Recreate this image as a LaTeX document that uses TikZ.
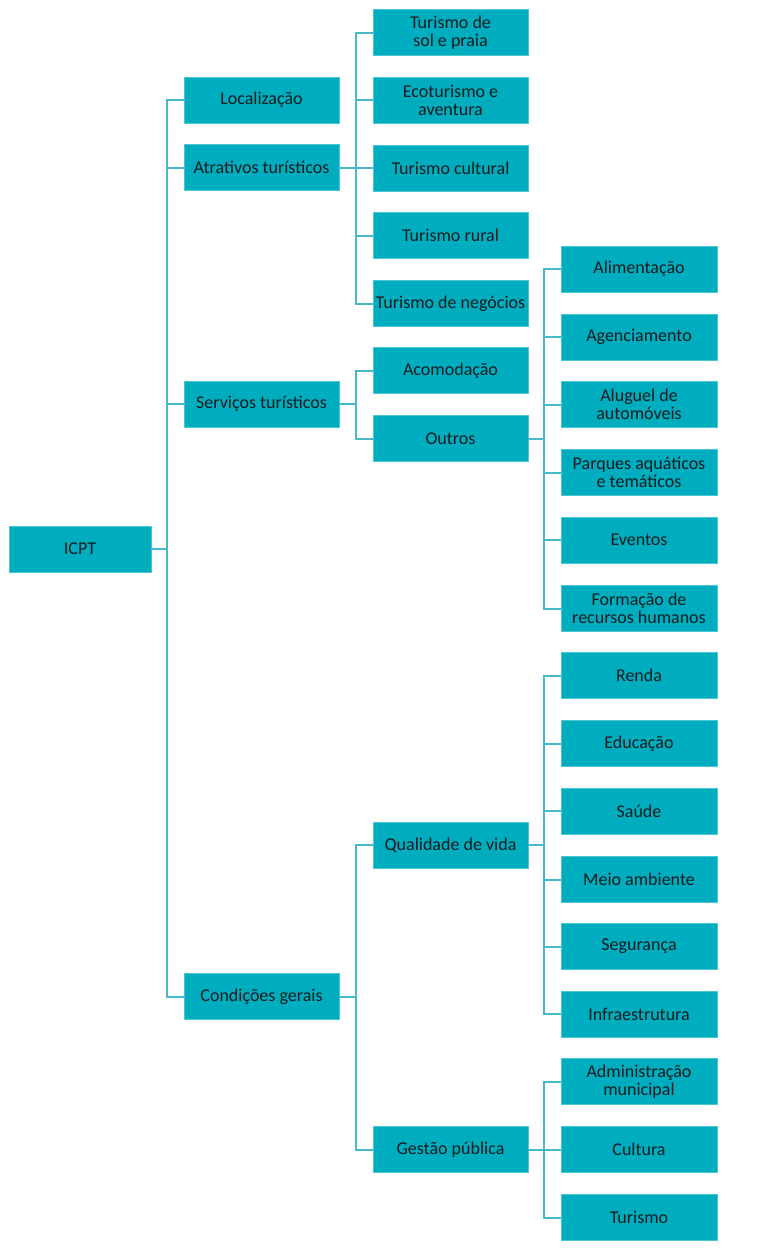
\documentclass[tikz,border=0pt]{standalone}
\usepackage{fontspec}
\setmainfont{Carlito}
\definecolor{boxfill}{RGB}{0,173,190}
\definecolor{linecol}{RGB}{70,186,200}
\definecolor{txt}{RGB}{20,28,32}
\begin{document}
\begin{tikzpicture}[x=1pt,y=-1pt,
  box/.style={fill=boxfill, draw=boxfill!70!white, line width=0.6pt, text=txt, font=\fontsize{18}{18.5}\selectfont,
    align=center, minimum height=46pt, inner sep=0.5pt, anchor=center},
  lvlzero/.style={box, minimum width=142pt},
  lvlone/.style={box, minimum width=155pt},
  lvltwo/.style={box, minimum width=155pt},
  lvlthree/.style={box, minimum width=156pt},
  conn/.style={draw=linecol, line width=2pt}]
\useasboundingbox (0,0) rectangle (779,1253);
\fill[white] (0,0) rectangle (779,1253);
% level 0
\node[lvlzero] (icpt) at (80,549) {ICPT};
% level 1
\node[lvlone] (loc) at (261.5,100) {Localização};
\node[lvlone] (atr) at (261.5,167.5) {Atrativos turísticos};
\node[lvlone] (serv) at (261.5,404) {Serviços turísticos};
\node[lvlone] (cond) at (261.5,996.5) {Condições gerais};
% level 2
\node[lvltwo] (sol) at (450.5,32.5) {Turismo de\\sol e praia};
\node[lvltwo] (eco) at (450.5,100.2) {Ecoturismo e\\aventura};
\node[lvltwo] (cult) at (450.5,168) {Turismo cultural};
\node[lvltwo] (rural) at (450.5,235.7) {Turismo rural};
\node[lvltwo] (neg) at (450.5,303.5) {Turismo de negócios};
\node[lvltwo] (acom) at (450.5,370.7) {Acomodação};
\node[lvltwo] (outros) at (450.5,438.5) {Outros};
\node[lvltwo] (qual) at (450.5,845) {Qualidade de vida};
\node[lvltwo] (gest) at (450.5,1149.5) {Gestão pública};
% level 3
\node[lvlthree] (alim) at (639,269) {Alimentação};
\node[lvlthree] (agen) at (639,337) {Agenciamento};
\node[lvlthree] (alug) at (639,404.5) {Aluguel de\\automóveis};
\node[lvlthree] (parq) at (639,472.5) {Parques aquáticos\\e temáticos};
\node[lvlthree] (even) at (639,540) {Eventos};
\node[lvlthree] (form) at (639,608.5) {Formação de\\recursos humanos};
\node[lvlthree] (renda) at (639,675.5) {Renda};
\node[lvlthree] (educ) at (639,743.5) {Educação};
\node[lvlthree] (saude) at (639,811) {Saúde};
\node[lvlthree] (meio) at (639,879.5) {Meio ambiente};
\node[lvlthree] (seg) at (639,946.5) {Segurança};
\node[lvlthree] (infra) at (639,1014) {Infraestrutura};
\node[lvlthree] (admin) at (639,1081.5) {Administração\\municipal};
\node[lvlthree] (cultura) at (639,1149.5) {Cultura};
\node[lvlthree] (tur) at (639,1217.5) {Turismo};
% connectors
\foreach \c in {loc,atr,serv,cond}
  \draw[conn] (icpt.east) -- ++(16,0) |- (\c.west);
\foreach \c in {sol,eco,cult,rural,neg}
  \draw[conn] (atr.east) -- ++(17,0) |- (\c.west);
\foreach \c in {acom,outros}
  \draw[conn] (serv.east) -- ++(17,0) |- (\c.west);
\foreach \c in {qual,gest}
  \draw[conn] (cond.east) -- ++(17,0) |- (\c.west);
\foreach \c in {alim,agen,alug,parq,even,form}
  \draw[conn] (outros.east) -- ++(16,0) |- (\c.west);
\foreach \c in {renda,educ,saude,meio,seg,infra}
  \draw[conn] (qual.east) -- ++(16,0) |- (\c.west);
\foreach \c in {admin,cultura,tur}
  \draw[conn] (gest.east) -- ++(16,0) |- (\c.west);
\end{tikzpicture}
\end{document}
